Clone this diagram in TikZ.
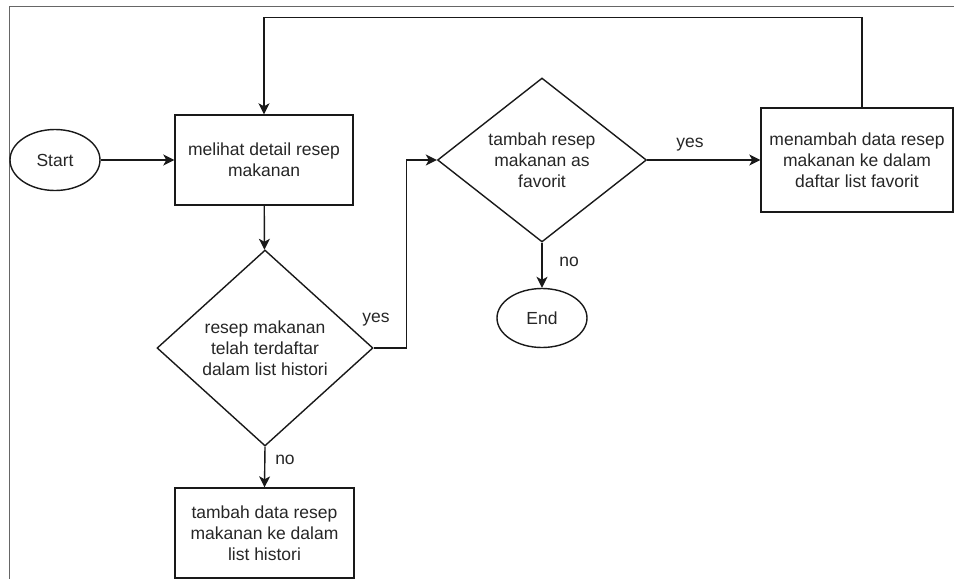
\documentclass[tikz,border=0pt]{standalone}
\usepackage{fontspec}
\setmainfont{Liberation Sans}
\usetikzlibrary{shapes.geometric,arrows.meta}
\begin{document}
\begin{tikzpicture}[x=1pt,y=-1pt,
  font=\fontsize{17.5}{21}\selectfont,
  every node/.style={text=black!85, align=center, inner sep=0pt},
  flow/.style={line width=1.4pt, draw=black!90, -{Stealth[length=11pt,width=11pt,inset=3pt]}},
  link/.style={line width=1.4pt, draw=black!90},
  stepbox/.style={draw=black!90, line width=1.4pt, rectangle},
  term/.style={draw=black!90, line width=1.4pt, ellipse},
  choice/.style={draw=black!90, line width=1.4pt, diamond, aspect=1.1},
  lbl/.style={text=black!85}]
\useasboundingbox (0,0) rectangle (954,579);
% page frame
\draw[line width=1pt, black!60] (954,6) -- (9,6) -- (9,579);

% nodes
\node[term, minimum width=90, minimum height=61] (start) at (55,160) {Start};
\node[stepbox, minimum width=178, minimum height=90] (see) at (264,160) {melihat detail resep\\makanan};
\node[choice, minimum width=216, minimum height=196] (hist) at (265,348) {resep makanan\\telah terdaftar\\dalam list histori};
\node[stepbox, minimum width=179, minimum height=90] (addhist) at (264.5,533) {tambah data resep\\makanan ke dalam\\list histori};
\node[choice, minimum width=209, minimum height=164] (fav) at (542,160) {tambah resep\\makanan as\\favorit};
\node[term, minimum width=90, minimum height=59] (end) at (542,318) {End};
\node[stepbox, minimum width=192, minimum height=104] (addfav) at (857,160) {menambah data resep\\makanan ke dalam\\daftar list favorit};

% connectors
\draw[flow] (start) -- (see);
\draw[flow] (see) -- (hist);
\draw[flow] (hist.south) -- (addhist.north);
\draw[flow] (hist.east) -- ++(33,0) |- (fav.west);
\draw[flow] (fav.south) -- (end.north);
\draw[flow] (fav.east) -- (addfav.west);
\draw[flow] ([xshift=5pt]addfav.north) -- ++(0,-90) -| (see.north);

% branch labels
\node[lbl] (nohist) at (285,460) {no};
\node[lbl] (yeshist) at (376,320) {yes};
\node[lbl] (nofav) at (569,262) {no};
\node[lbl] (yesfav) at (690,145) {yes};
\end{tikzpicture}
\end{document}
